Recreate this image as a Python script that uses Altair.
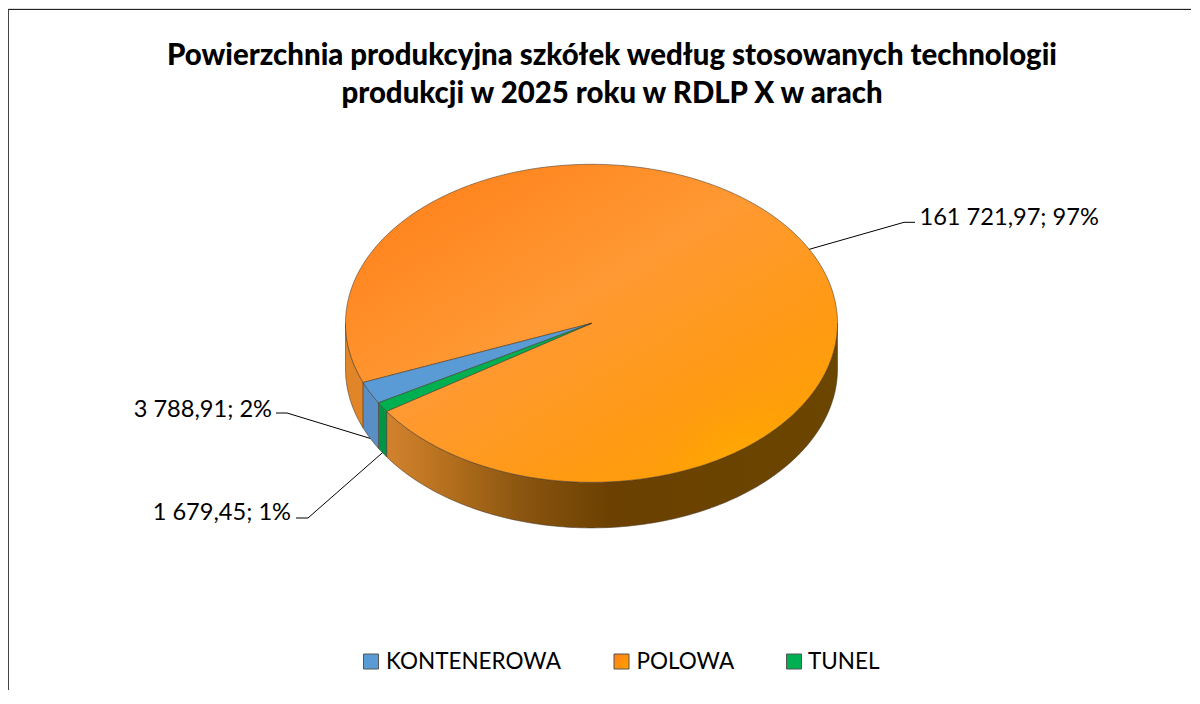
import math
import altair as alt

categories = ["KONTENEROWA", "POLOWA", "TUNEL"]
values = [3788.91, 161721.97, 1679.45]
title_lines = ["Powierzchnia produkcyjna szkółek według stosowanych technologii",
               "produkcji w 2025 roku w RDLP X w arach"]
legend_square_x = [371, 621.5, 794]
legend_text_x = [386, 636.5, 808]
first_slice_angle = 240.0

W, H = 1183, 682
CX, CY, RX, RY, DEPTH = 591.5, 323.3, 246.0, 159.0, 45.6
FONT = "Lato"
total = sum(values)


def pt(a, drop=0.0):
    r = math.radians(a)
    return [CX + RX * math.sin(r), CY - RY * math.cos(r) + drop]


def arc(a0, a1, drop=0.0, step=1.0):
    n = max(2, int(abs(a1 - a0) / step) + 1)
    return [pt(a0 + (a1 - a0) * i / n, drop) for i in range(n + 1)]


def feature(ring):
    return {"type": "Feature", "properties": {},
            "geometry": {"type": "Polygon", "coordinates": [ring + [ring[0]]]}}


def wedge(a0, a1):
    return feature([[CX, CY]] + arc(a0, a1))


def side(a0, a1):
    return feature(arc(a0, a1) + arc(a1, a0, DEPTH))


spans, a = {}, first_slice_angle
for c, v in zip(categories, values):
    spans[c] = (a, a + v / total * 360)
    a = spans[c][1]

EDGE = "#4a3a28"
PROJ = dict(type="identity", scale=1, translate=[-8, -8])


def shape(feat, fill, stroke=EDGE, width=0.7):
    return (alt.Chart(alt.Data(values=[feat]))
            .mark_geoshape(fill=fill, stroke=stroke, strokeWidth=width, strokeOpacity=0.8)
            .project(**PROJ))


def frame_line(coords, color):
    feat = {"type": "Feature", "properties": {},
            "geometry": {"type": "LineString", "coordinates": coords}}
    return (alt.Chart(alt.Data(values=[feat]))
            .mark_geoshape(filled=False, stroke=color, strokeWidth=1)
            .project(**PROJ))


def linear(stops, x1=0, y1=0, x2=1, y2=0):
    return {"gradient": "linear", "x1": x1, "y1": y1, "x2": x2, "y2": y2,
            "stops": [{"offset": o, "color": col} for o, col in stops]}


k0, k1 = spans["KONTENEROWA"]
p0, p1 = spans["POLOWA"]
t0, t1 = spans["TUNEL"]

side_fill = linear([(0, "#D2822E"), (0.12, "#B8721F"), (0.3, "#8A5510"),
                    (0.5, "#6B4000"), (1, "#6B4600")])
top_fill = linear([(0, "#FF7F1A"), (0.45, "#FF9933"), (0.75, "#FF9A15"), (1, "#FFA200")],
                  0.05, 0.05, 0.9, 0.95)
glow = {"gradient": "radial", "x1": 0.83, "y1": 0.83, "r1": 0, "x2": 0.83, "y2": 0.83, "r2": 0.2,
        "stops": [{"offset": 0, "color": "rgba(255,180,0,0.95)"},
                  {"offset": 1, "color": "rgba(255,160,0,0)"}]}

layers = [
    shape(side(90, p1 - 360), side_fill),
    shape(side(p0, 270), "#E08628"),
    shape(side(t0 - 0, t1), "#009447"),
    shape(side(k0, k1), "#5A8FC6"),
    shape(wedge(p0, p1), top_fill),
    shape(wedge(p0, p1), glow, stroke="transparent", width=0),
    shape(wedge(k0, k1), "#5B9BD5"),
    shape(wedge(t0, t1), "#00B050"),
    frame_line([[8, 9.5], [8 + W, 9.5]], "#222222"),
    frame_line([[8.5, 9.5], [8.5, 8 + H]], "#444444"),
]

x_enc = alt.X("x:Q", scale=alt.Scale(domain=[8, W + 8], nice=False, zero=False), axis=None)
y_enc = alt.Y("y:Q", scale=alt.Scale(domain=[8, H + 8], nice=False, zero=False, reverse=True), axis=None)

# leader lines + data labels (anchored on each slice's mid angle)
label_layout = {"KONTENEROWA": ((287, 413), (276, 413), (272, "right"), 410),
                "POLOWA": ((904, 222.3), (915, 222.3), (919.5, "left"), 217.5),
                "TUNEL": ((308, 518), (296, 518), (291, "right"), 513)}
for c, v in zip(categories, values):
    a0, a1 = spans[c]
    mid = ((a0 + a1) / 2) % 360
    start = pt(mid, DEPTH if 90 < mid < 270 else 0)
    elbow, end, (tx, align), ty = label_layout[c]
    rows = [{"x": start[0], "y": start[1], "o": 0}, {"x": elbow[0], "y": elbow[1], "o": 1},
            {"x": end[0], "y": end[1], "o": 2}]
    layers.append(alt.Chart(alt.Data(values=rows)).mark_line(color="#000000", strokeWidth=1, clip=False)
                  .encode(x=x_enc, y=y_enc, order="o:Q"))
    txt = f"{v:,.2f}".replace(",", " ").replace(".", ",") + f"; {v / total:.0%}"
    layers.append(alt.Chart(alt.Data(values=[{"x": tx, "y": ty, "t": txt}]))
                  .mark_text(font=FONT, fontSize=23.6, color="#000000", align=align, baseline="middle")
                  .encode(x=x_enc, y=y_enc, text="t:N"))

# legend
legend_rows = [{"x": x, "y": 661.5, "c": c} for x, c in zip(legend_square_x, categories)]
text_rows = [{"x": x, "y": 662, "c": c} for x, c in zip(legend_text_x, categories)]
layers.append(alt.Chart(alt.Data(values=[r for r in legend_rows if r["c"] != "POLOWA"]))
              .mark_square(size=225, opacity=1, stroke="#555555", strokeWidth=1)
              .encode(x=x_enc, y=y_enc,
                      fill=alt.Fill("c:N", legend=None,
                                    scale=alt.Scale(domain=["KONTENEROWA", "TUNEL"], range=["#5B9BD5", "#00B050"]))))
layers.append(alt.Chart(alt.Data(values=[r for r in legend_rows if r["c"] == "POLOWA"]))
              .mark_square(size=225, opacity=1, stroke="#555555", strokeWidth=1,
                           fill=linear([(0, "#FF7F1A"), (1, "#FFA200")], 0, 0, 1, 1))
              .encode(x=x_enc, y=y_enc))
layers.append(alt.Chart(alt.Data(values=text_rows))
              .mark_text(font=FONT, fontSize=22.5, color="#000000", align="left", baseline="middle")
              .encode(x=x_enc, y=y_enc, text="c:N"))

chart = (alt.layer(*layers)
         .resolve_scale(fill="independent")
         .properties(width=W, height=H, padding=0,
                     autosize=alt.AutoSizeParams(type="none"),
                     title=alt.TitleParams(text=title_lines, font=FONT, fontSize=29.4, fontWeight=900,
                                           color="#000000", anchor="middle", frame="group",
                                           orient="top", offset=-101, dx=12.5, lineHeight=37.5))
         .configure_view(strokeWidth=0)
         .configure(background="#ffffff"))
chart.save("out.html", embed_options={"renderer": "svg", "actions": False})
